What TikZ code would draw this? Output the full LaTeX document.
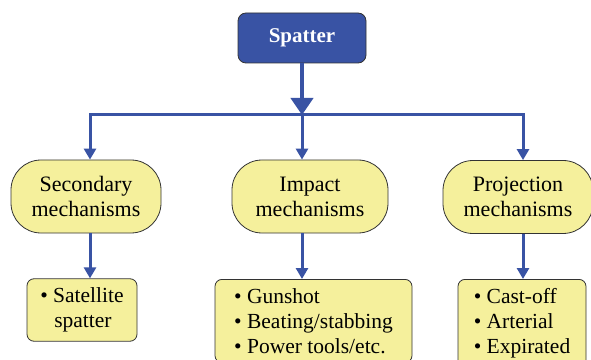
\documentclass[tikz,border=0pt]{standalone}
\usepackage{fontspec}
\setmainfont{LiberationSerif-Regular.ttf}[BoldFont=LiberationSerif-Bold.ttf]
\usepackage{tikz}
\usetikzlibrary{shapes,arrows.meta}
\definecolor{spblue}{HTML}{3953A4}
\definecolor{spyellow}{HTML}{F5F09C}
\tikzstyle{rootbox} = [draw=black!80, line width=0.8pt, fill=spblue, rounded corners=8pt, minimum width=128pt, minimum height=50pt, text=white, font=\fontsize{21}{25}\selectfont\bfseries]
\tikzstyle{mech} = [draw=black!80, line width=0.8pt, fill=spyellow, rounded corners=30pt, minimum height=73pt, align=center, font=\fontsize{22}{25}\selectfont]
\tikzstyle{list} = [draw=black!80, line width=0.8pt, fill=spyellow, rounded corners=7pt, align=left, inner ysep=9pt, font=\fontsize{21.5}{25}\selectfont]
\tikzstyle{arrow1} = [spblue, line width=3pt, -{Triangle[length=11pt,width=12pt]}]
\tikzstyle{arrow2} = [spblue, line width=4pt, -{Triangle[length=17pt,width=22pt]}]

\begin{document}
\begin{tikzpicture}[x=1pt, y=1pt]
\useasboundingbox (0,0) rectangle (591,359);

% Place nodes
\node [rootbox](spatter) at (302,321){Spatter};
\node [mech, minimum width=150pt](secondary) at (86,162.5){Secondary\\mechanisms};
\node [mech, minimum width=156pt](impact) at (310,162.5){Impact\\mechanisms};
\node [mech, minimum width=150pt](projection) at (518,162){Projection\\mechanisms};
\node [list, minimum width=110pt, minimum height=62pt](satellite) at (82,49){\textbullet\ Satellite\\\hspace*{14pt}spatter};
\node [list, anchor=north, minimum width=197pt](impactlist) at (313.5,80){\textbullet\ Gunshot\\\textbullet\ Beating/stabbing\\\textbullet\ Power tools/etc.};
\node [list, anchor=north, minimum width=128pt](projlist) at (522,80){\textbullet\ Cast-off\\\textbullet\ Arterial\\\textbullet\ Expirated};

% Place lines
\coordinate (busmid) at (302,244);
\coordinate (busL) at (90,244);
\coordinate (busR) at (523,244);
\draw [arrow1] (busmid) -- (busL) -- (busL |- secondary.north);
\draw [arrow1] (busmid) -- (busR) -- (busR |- projection.north);
\draw [arrow1] (busmid) -- (busmid |- impact.north);
\draw [arrow2] (spatter.south) -- (busmid);
\draw [arrow1] (busL |- secondary.south) -- (busL |- satellite.north);
\draw [arrow1] (busmid |- impact.south) -- (busmid |- impactlist.north);
\draw [arrow1] (busR |- projection.south) -- (busR |- projlist.north);

\end{tikzpicture}
\end{document}
